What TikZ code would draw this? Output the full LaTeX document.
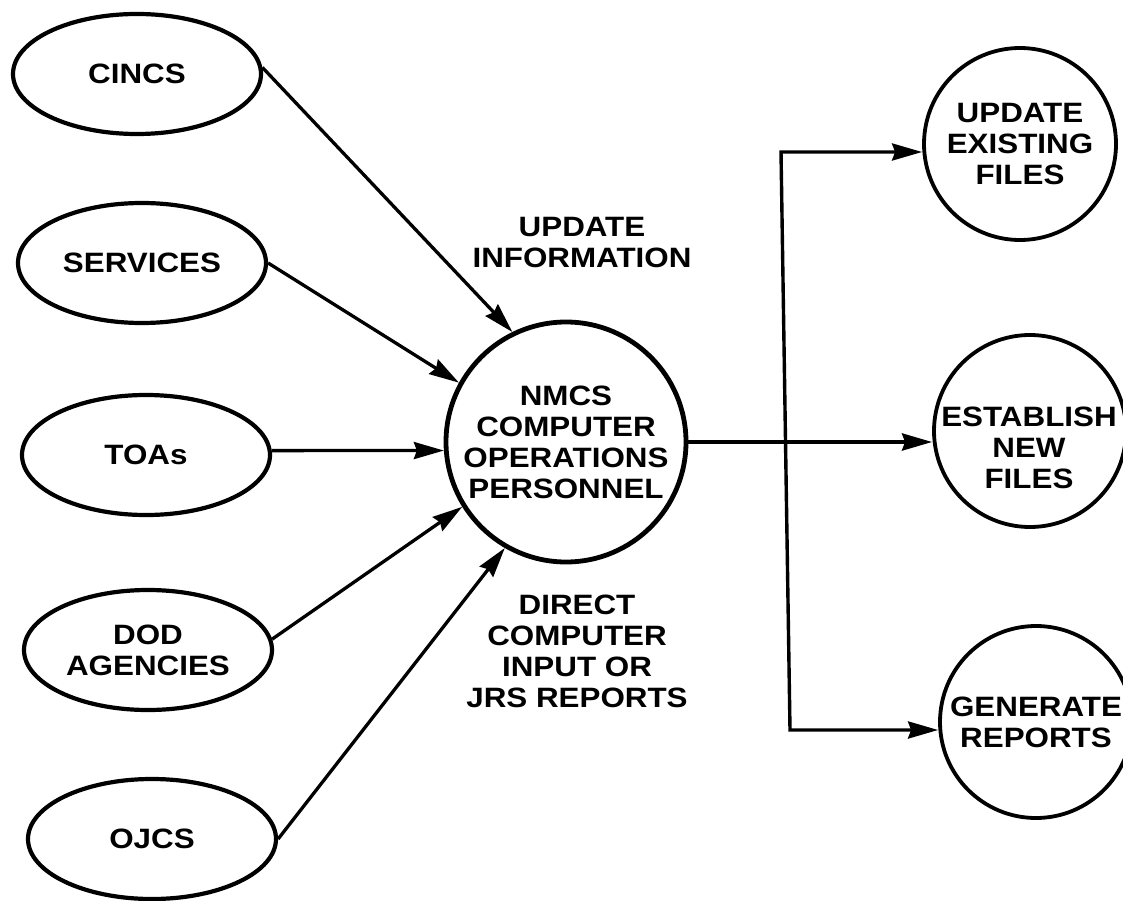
\documentclass[tikz,border=0pt]{standalone}
\usepackage{fontspec}
\setmainfont{Liberation Sans}[FakeStretch=1.12]
\usetikzlibrary{arrows.meta,shapes.geometric}
\tikzset{
  lbl/.style={font=\bfseries\fontsize{28}{31}\selectfont, align=center, inner sep=0pt},
  src/.style={draw, ellipse, line width=4.2pt, minimum width=248pt, minimum height=120pt, inner sep=0pt, lbl},
  hub/.style={draw, circle, line width=4.8pt, minimum size=240pt, inner sep=0pt, lbl},
  dest/.style={draw, circle, line width=3.8pt, minimum size=192pt, inner sep=0pt, lbl},
  tipA/.tip={Stealth[length=30pt,width=17pt,inset=3pt]},
  flow/.style={line width=3.3pt, -tipA},
  flowthick/.style={line width=4pt, -tipA},
}
\begin{document}
\begin{tikzpicture}[x=1pt, y=-1pt, line join=miter]
  \useasboundingbox (0,0) rectangle (1123,901);
  \fill[white] (0,0) rectangle (1123,901);

  % sources
  \node[src] (cincs) at (137,74) {CINCS};
  \node[src] (serv) at (142,263) {SERVICES};
  \node[src] (toas) at (146,455) {TOAs};
  \node[src] (dod) at (148,650) {DOD\\AGENCIES};
  \node[src] (ojcs) at (152,839) {OJCS};

  % hub
  \node[hub] (nmcs) at (566,442) {NMCS\\COMPUTER\\OPERATIONS\\PERSONNEL};

  % labels
  \node[lbl] (updinfo) at (582,243) {UPDATE\\INFORMATION};
  \node[lbl] (direct) at (577,651) {DIRECT\\COMPUTER\\INPUT OR\\JRS REPORTS};

  % destinations
  \node[dest] (upd) at (1020,144) {UPDATE\\EXISTING\\FILES};
  \node[dest] (est) at (1030,431) {};
  \node[lbl] (esttext) at (1029,448) {ESTABLISH\\NEW\\FILES};
  \node[dest] (gen) at (1036,722) {GENERATE\\REPORTS};

  % inflows
  \draw[flow] (cincs.3) -- (nmcs.116.6);
  \draw[flow] (serv.east) -- (nmcs.151.5);
  \draw[flow] (toas.2) -- (nmcs.184);
  \draw[flow] (dod.5) -- (nmcs.212.5);
  \draw[flow] (ojcs.east) -- (nmcs.240);

  % outflows
  \coordinate (jt) at (781,152);
  \coordinate (jb) at (790,730);
  \draw[flowthick] (nmcs.east) -- (nmcs.east -| est.west);
  \draw[line width=3.4pt, tipA-tipA] (upd.west |- jt) -- (jt) -- (jb) -- (gen.west |- jb);
\end{tikzpicture}
\end{document}
